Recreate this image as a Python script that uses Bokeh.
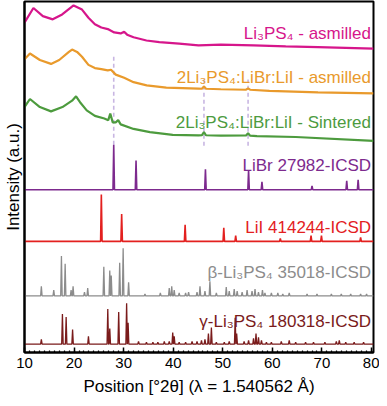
import numpy as np
from bokeh.plotting import figure
from bokeh.models import Range1d, SingleIntervalTicker, ColumnDataSource
from bokeh.embed import file_html
from bokeh.resources import INLINE
from bokeh.core.properties import value

# ---------------- data (2θ in degrees, intensity in stacked plot units) ----------------
# Li3PS4 as-milled (amorphous)
asm_x = [10.0, 11.8, 13.7, 15.7, 17.6, 19.9, 21.6, 22.9, 24.2, 25.5, 26.8, 28.1, 29.4,
         30.1, 30.7, 32.0, 34.6, 37.2, 41.2, 45.1, 49.6, 56.2, 62.7, 69.2, 80.4]
asm_y = [338.3, 353.3, 345.0, 341.7, 346.7, 356.0, 351.7, 343.3, 336.7, 333.3, 331.7, 328.3, 327.3,
         329.0, 326.0, 323.3, 320.0, 318.3, 316.7, 315.0, 315.7, 315.0, 314.0, 313.3, 311.7]

# 2Li3PS4:LiBr:LiI as-milled
mix_x = [10.0, 11.1, 13.1, 15.35, 17.0, 18.96, 19.6, 20.6, 21.6, 22.9, 24.2, 25.5, 26.8,
         27.45, 28.4, 30.1, 32.0, 34.65, 38.6, 45.1, 45.8, 46.2, 46.6, 49.6, 54.7, 55.1, 55.5,
         59.4, 69.2, 80.4]
mix_y = [300.7, 306.7, 300.0, 296.0, 300.0, 308.3, 310.7, 308.3, 303.3, 295.0, 291.7, 290.7, 289.3,
         290.0, 285.0, 281.7, 277.3, 274.0, 271.7, 270.7, 270.5, 273.0, 270.5, 270.0, 269.5, 271.0, 269.5,
         268.3, 266.7, 265.7]

# 2Li3PS4:LiBr:LiI sintered
sin_x = [10.0, 11.1, 13.1, 15.35, 17.65, 19.6, 20.4, 21.2, 22.55, 24.2, 26.1, 26.9, 27.3,
         27.8, 28.4, 28.9, 29.4, 32.0, 35.3, 39.9, 45.1, 45.8, 46.2, 46.6, 49.6, 54.7, 55.1,
         55.5, 56.9, 64.7, 80.4]
sin_y = [251.7, 260.0, 251.7, 247.3, 251.7, 258.3, 262.7, 256.7, 248.3, 242.7, 240.0, 238.3, 245.0,
         236.0, 236.0, 238.3, 234.0, 229.3, 226.0, 223.3, 222.7, 223.0, 226.0, 222.8, 222.5, 222.6, 225.0,
         222.4, 222.0, 221.0, 217.0]

# Reference patterns: peak positions and heights, with their baselines
libr_base = 167
libr_pos = [28.0, 32.5, 46.5, 55.2, 57.9, 68.0, 75.0, 77.3]
libr_h = [46, 30, 21, 20, 8, 4, 9, 10]

lii_base = 114
lii_pos = [25.5, 29.6, 42.4, 50.2, 52.6, 61.6, 67.8, 69.9, 77.8]
lii_h = [48, 28, 17, 14, 6, 3, 6, 6, 4]

beta_base = 58
beta_pos = [13.4, 15.9, 17.45, 18.2, 19.4, 19.8, 22.1, 22.75, 26.0, 27.2, 27.5, 29.2, 29.9, 31.0,
            34.3, 37.4, 39.2, 39.7, 40.2, 41.2, 42.5, 43.1, 44.8, 45.4, 46.4, 47.4, 48.7, 50.7,
            51.3, 52.3, 52.9, 53.9, 54.9, 55.9, 56.5, 57.2, 58.0, 58.5, 59.8, 61.1, 62.1, 63.4,
            67.0, 69.0, 71.9, 73.9, 75.8, 77.8, 79.0]
beta_h = [10, 6, 41, 33, 6, 10, 4, 8, 30, 26, 21, 34, 49, 14,
          2, 3, 8, 10, 6, 3, 3, 4, 4, 10, 5, 15, 3, 9,
          5, 7, 5, 4, 6, 5, 7, 4, 6, 3, 3, 3, 2, 3,
          2, 2, 2, 2, 2, 2, 2]

gamma_base = 8.5
gamma_pos = [13.4, 17.65, 18.4, 19.7, 22.9, 26.8, 27.2, 29.0, 30.6, 30.9, 33.0, 34.6, 35.9, 36.9,
             38.2, 39.2, 39.9, 40.2, 41.2, 42.5, 43.8, 44.8, 45.7, 46.4, 47.1, 47.7, 48.7, 50.3,
             51.3, 52.5, 52.8, 54.3, 55.2, 56.2, 56.7, 57.2, 57.8, 58.8, 59.8, 61.8, 63.4, 64.7,
             66.7, 68.3, 70.6, 72.9, 73.5, 74.8, 76.5, 78.4]
gamma_h = [5, 31, 28, 15, 8, 36, 16, 33, 42, 22, 3, 2, 2, 2,
           3, 3, 12, 8, 2, 2, 3, 3, 4, 5, 11, 17, 2, 2,
           3, 27, 11, 3, 4, 6, 11, 7, 4, 2, 2, 3, 4, 2,
           2, 2, 2, 3, 4, 2, 2, 2]

# guide lines (dashed) at LiBr reflections
guide_x = [28.0, 46.2, 55.1]
guide_top = [304, 280, 280]
guide_bottom = [213, 212, 212]

# labels
label_text = ["Li₃PS₄ - asmilled", "2Li₃PS₄:LiBr:LiI - asmilled", "2Li₃PS₄:LiBr:LiI - Sintered",
              "LiBr 27982-ICSD", "LiI 414244-ICSD", "β-Li₃PS₄ 35018-ICSD", "γ-Li₃PS₄ 180318-ICSD"]
label_y = [327.5, 282.5, 236.0, 192.3, 128.3, 81.7, 32.3]
colors = ["#D6168B", "#E99A2C", "#4D9B3E", "#7D2A8E", "#E3201F", "#8C8C8C", "#7A1B1B"]

X_MIN, X_MAX = 10, 80.4


def stick_path(pos, h, base, w=0.15):
    xs, ys = [X_MIN], [base]
    for p_, hh in sorted(zip(pos, h)):
        xs += [p_ - w, p_, p_ + w]
        ys += [base, base + hh, base]
    xs.append(X_MAX)
    ys.append(base)
    return xs, ys


FONT = "Liberation Sans"

p = figure(width=379, height=398, output_backend="svg", toolbar_location=None,
           x_range=Range1d(X_MIN, X_MAX), y_range=Range1d(0, 360),
           min_border_left=0, min_border_right=6, min_border_top=1, min_border_bottom=0)
p.background_fill_color = "white"
p.border_fill_color = "white"
p.xgrid.visible = False
p.ygrid.visible = False
p.outline_line_color = "black"
p.outline_line_width = 2
p.outline_line_alpha = 1

# guides
for gx, gt, gb in zip(guide_x, guide_top, guide_bottom):
    p.segment(x0=gx, y0=gb, x1=gx, y1=gt, line_color="#C8B6E2", line_width=1.6, line_dash="4 3")

# amorphous curves
p.line(asm_x, asm_y, line_color=colors[0], line_width=2.2)
p.line(mix_x, mix_y, line_color=colors[1], line_width=2.2)
p.line(sin_x, sin_y, line_color=colors[2], line_width=2.2)

# reference patterns
for pos, h, base, c, lw in [(libr_pos, libr_h, libr_base, colors[3], 1.6),
                            (lii_pos, lii_h, lii_base, colors[4], 1.6),
                            (beta_pos, beta_h, beta_base, colors[5], 1.3),
                            (gamma_pos, gamma_h, gamma_base, colors[6], 1.3)]:
    xs, ys = stick_path(pos, h, base)
    p.line(xs, ys, line_color=c, line_width=lw)

src = ColumnDataSource(dict(x=[79.9] * len(label_text), y=label_y, text=label_text, color=colors))
p.text(x="x", y="y", text="text", text_color="color", source=src,
       text_font=value(FONT), text_font_size=value("17px"),
       text_align="right", text_baseline="alphabetic")

# axes
xa = p.xaxis[0]
xa.ticker = SingleIntervalTicker(interval=10, num_minor_ticks=10)
xa.major_tick_in = 5
xa.major_tick_out = 0
xa.minor_tick_in = 2
xa.minor_tick_out = 0
xa.major_tick_line_color = "black"
xa.minor_tick_line_color = "black"
xa.major_tick_line_width = 1.5
xa.minor_tick_line_width = 1.2
xa.axis_line_width = 2
xa.axis_line_color = "black"
xa.major_label_text_font = FONT
xa.major_label_text_font_size = "15px"
xa.major_label_text_color = "black"
xa.major_label_standoff = 5
xa.axis_label = "Position [°2θ] (λ = 1.540562 Å)"
xa.axis_label_text_font = FONT
xa.axis_label_text_font_size = "17px"
xa.axis_label_text_font_style = "normal"
xa.axis_label_text_color = "black"
xa.axis_label_standoff = 6

ya = p.yaxis[0]
ya.axis_label = "Intensity (a.u.)"
ya.axis_label_text_font = FONT
ya.axis_label_text_font_size = "17px"
ya.axis_label_text_font_style = "normal"
ya.axis_label_text_color = "black"
ya.axis_label_standoff = 2
ya.major_label_text_font_size = "0px"
ya.major_label_standoff = 0
ya.major_tick_in = 0
ya.major_tick_out = 0
ya.minor_tick_in = 0
ya.minor_tick_out = 0
ya.axis_line_width = 2
ya.axis_line_color = "black"
ya.ticker = []

open("out.html", "w").write(file_html(p, INLINE))
